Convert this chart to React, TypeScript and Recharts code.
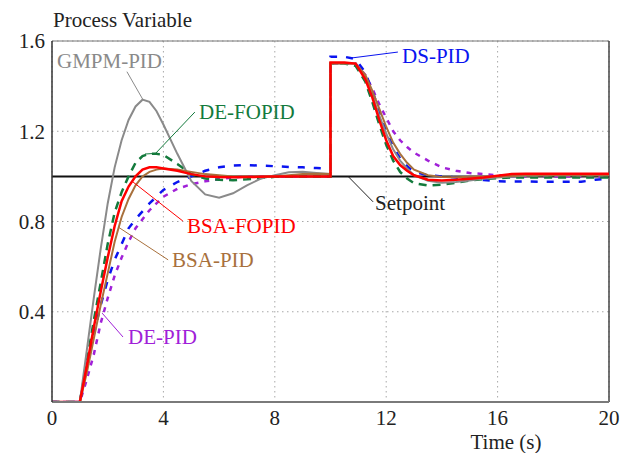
import React from 'react';
import { LineChart, Line, XAxis, YAxis, CartesianGrid, ReferenceLine, ReferenceDot } from 'recharts';

const SERIF = "'Liberation Serif', 'Times New Roman', serif";

// time axis (s); 10 appears twice for the load step
const time = [
  0, 1, 1.25, 1.5, 1.75, 2, 2.25, 2.5, 2.75, 3, 3.25, 3.5, 3.75, 4, 4.5, 5, 5.5, 6, 6.5, 7, 7.5, 8, 8.5, 9, 9.5, 10,
  10, 10.5, 10.9, 11.25, 11.5, 11.75, 12, 12.25, 12.5, 12.75, 13, 13.5, 14, 14.5, 15, 15.5, 16, 16.5, 17, 18, 19, 19.5, 20,
];

const bsaFopid = [
  0, 0, 0.16, 0.33, 0.49, 0.64, 0.78, 0.89, 0.955, 1.0, 1.03, 1.04, 1.04, 1.035, 1.025, 1.01, 1.0, 0.997, 0.996, 0.997, 0.998, 1.0, 1.0, 1.0, 1.0, 1.0,
  1.505, 1.505, 1.5, 1.43, 1.35, 1.25, 1.16, 1.09, 1.05, 1.025, 1.005, 0.985, 0.982, 0.985, 0.99, 0.995, 1.003, 1.01, 1.012, 1.012, 1.012, 1.012, 1.012,
];

const gmpmPid = [
  0, 0, 0.23, 0.46, 0.68, 0.88, 1.04, 1.16, 1.25, 1.31, 1.34, 1.33, 1.29, 1.23, 1.1, 0.98, 0.92, 0.905, 0.925, 0.96, 0.99, 1.005, 1.018, 1.02, 1.015, 1.01,
  1.5, 1.5, 1.5, 1.44, 1.36, 1.27, 1.19, 1.12, 1.07, 1.035, 1.005, 0.98, 0.972, 0.975, 0.982, 0.99, 0.995, 1.0, 1.003, 1.005, 1.005, 1.005, 1.005,
];

const bsaPid = [
  0, 0, 0.13, 0.28, 0.43, 0.57, 0.71, 0.82, 0.9, 0.96, 1.0, 1.02, 1.03, 1.035, 1.03, 1.02, 1.01, 1.005, 1.0, 1.0, 1.0, 1.0, 1.005, 1.01, 1.012, 1.01,
  1.5, 1.5, 1.5, 1.45, 1.38, 1.3, 1.22, 1.15, 1.1, 1.06, 1.03, 1.005, 0.997, 0.996, 0.998, 1.0, 1.0, 1.002, 1.005, 1.005, 1.005, 1.005, 1.005,
];

const deFopid = [
  0, 0, 0.18, 0.36, 0.53, 0.7, 0.84, 0.93, 1.0, 1.06, 1.09, 1.1, 1.1, 1.095, 1.055, 1.01, 0.99, 0.985, 0.983, 0.987, 0.993, 0.998, 1.0, 1.0, 1.0, 1.0,
  1.5, 1.5, 1.49, 1.42, 1.33, 1.23, 1.14, 1.07, 1.02, 0.99, 0.97, 0.96, 0.963, 0.972, 0.982, 0.988, 0.992, 0.995, 0.995, 0.995, 0.995, 0.995, 0.995,
];

const dsPid = [
  0, 0, 0.16, 0.3, 0.43, 0.54, 0.63, 0.7, 0.77, 0.81, 0.845, 0.88, 0.91, 0.94, 0.975, 1.0, 1.025, 1.04, 1.048, 1.05, 1.048, 1.045, 1.042, 1.04, 1.037, 1.035,
  1.53, 1.53, 1.52, 1.46, 1.38, 1.29, 1.2, 1.13, 1.08, 1.045, 1.02, 1.005, 1.0, 0.995, 0.99, 0.984, 0.978, 0.977, 0.977, 0.976, 0.976, 0.985, 0.99,
];

const dePid = [
  0, 0, 0.1, 0.21, 0.35, 0.46, 0.56, 0.64, 0.71, 0.77, 0.81, 0.85, 0.88, 0.91, 0.945, 0.965, 0.978, 0.988, 0.995, 1.0, 1.0, 1.0, 1.0, 1.0, 1.0, 1.0,
  1.5, 1.5, 1.5, 1.45, 1.39, 1.32, 1.26, 1.2, 1.16, 1.13, 1.105, 1.07, 1.04, 1.025, 1.015, 1.01, 1.005, 1.002, 1.0, 1.0, 1.0, 1.0, 1.0,
];

const setpointTime = [0, 20];
const setpointValue = [1, 1];

const xTicks = [0, 4, 8, 12, 16, 20];
const yTicks = [0.4, 0.8, 1.2, 1.6];

const rows = time.map((t, i) => ({
  t,
  bsaFopid: bsaFopid[i],
  gmpmPid: gmpmPid[i],
  bsaPid: bsaPid[i],
  deFopid: deFopid[i],
  dsPid: dsPid[i],
  dePid: dePid[i],
}));

const setpointRows = setpointTime.map((t, i) => ({ t, setpoint: setpointValue[i] }));

// callout labels: text anchor (start, baseline) and leader line, in data units
const notes = [
  { text: 'GMPM-PID', color: '#8a8a8a', at: [0.18, 1.48], line: [[2.69, 1.464], [3.27, 1.339]] },
  { text: 'DE-FOPID', color: '#137a3c', at: [5.28, 1.254], line: [[5.13, 1.285], [3.72, 1.102], [3.34, 1.099]] },
  { text: 'BSA-FOPID', color: '#ff0000', at: [4.85, 0.749], line: [[4.7, 0.802], [2.91, 0.975]] },
  { text: 'BSA-PID', color: '#a8703c', at: [4.31, 0.598], line: [[4.17, 0.63], [2.37, 0.776]] },
  { text: 'DE-PID', color: '#a020d8', at: [2.73, 0.257], line: [[2.55, 0.288], [1.8, 0.394]] },
  { text: 'DS-PID', color: '#0a14f0', at: [12.57, 1.503], line: [[12.42, 1.551], [10.77, 1.525]] },
  { text: 'Setpoint', color: '#222222', at: [11.6, 0.851], line: [[11.53, 0.887], [10.63, 1.0]] },
];

export default function App() {
  return (
    <div style={{ position: 'absolute', left: 0, top: 0, width: 630, height: 453, background: '#fff' }}>
      <LineChart width={630} height={453} data={rows} margin={{ top: 41, right: 21, bottom: 0, left: 0 }}>
        <CartesianGrid stroke="#a8a8a8" strokeDasharray="1.5 3.5" />
        <XAxis
          dataKey="t"
          type="number"
          domain={[0, 20]}
          ticks={xTicks}
          interval={0}
          height={51}
          axisLine={{ stroke: '#7a7a7a', strokeWidth: 2 }}
          tickLine={false}
          tickMargin={2}
          tick={{ fill: '#222', fontSize: 21, fontFamily: SERIF }}
        />
        <YAxis
          type="number"
          domain={[0, 1.6]}
          ticks={yTicks}
          interval={0}
          width={52}
          allowDataOverflow
          axisLine={{ stroke: '#333', strokeWidth: 1.5 }}
          tickLine={false}
          tickMargin={1}
          tick={{ fill: '#222', fontSize: 21, fontFamily: SERIF }}
        />
        <ReferenceLine y={1.6} stroke="#777" strokeWidth={1} />
        <ReferenceLine x={20} stroke="#444" strokeWidth={1.5} />
        <Line data={setpointRows} dataKey="setpoint" type="linear" stroke="#111" strokeWidth={2} dot={false} isAnimationActive={false} />
        <Line dataKey="dePid" type="linear" stroke="#a020d8" strokeWidth={2.5} strokeDasharray="5 6" dot={false} isAnimationActive={false} />
        <Line dataKey="dsPid" type="linear" stroke="#0a14f0" strokeWidth={2.5} strokeDasharray="7 9" dot={false} isAnimationActive={false} />
        <Line dataKey="deFopid" type="linear" stroke="#137a3c" strokeWidth={2.5} strokeDasharray="8 6" dot={false} isAnimationActive={false} />
        <Line dataKey="gmpmPid" type="linear" stroke="#8a8a8a" strokeWidth={2} dot={false} isAnimationActive={false} />
        <Line dataKey="bsaPid" type="linear" stroke="#a8703c" strokeWidth={2} dot={false} isAnimationActive={false} />
        <Line dataKey="bsaFopid" type="linear" stroke="#ff0000" strokeWidth={2.5} dot={false} isAnimationActive={false} />
        {notes.map((n) =>
          n.line.slice(1).map((p, i) => (
            <ReferenceLine
              key={`${n.text}-l${i}`}
              segment={[
                { x: n.line[i][0], y: n.line[i][1] },
                { x: p[0], y: p[1] },
              ]}
              stroke={n.color}
              strokeWidth={1}
              ifOverflow="visible"
            />
          ))
        )}
        {notes.map((n) => (
          <ReferenceDot
            key={n.text}
            x={n.at[0]}
            y={n.at[1]}
            r={0}
            fill="none"
            stroke="none"
            ifOverflow="visible"
            label={{
              content: (props: any) => (
                <text x={props.viewBox.x} y={props.viewBox.y} fill={n.color} fontSize={21} fontFamily={SERIF}>
                  {n.text}
                </text>
              ),
            }}
          />
        ))}
      </LineChart>
      <svg width={630} height={453} style={{ position: 'absolute', left: 0, top: 0, pointerEvents: 'none' }}>
        <text x={53} y={27} fill="#222" fontSize={21} fontFamily={SERIF}>Process Variable</text>
        <text x={506} y={449} fill="#222" fontSize={21} fontFamily={SERIF} textAnchor="middle">Time (s)</text>
      </svg>
    </div>
  );
}
